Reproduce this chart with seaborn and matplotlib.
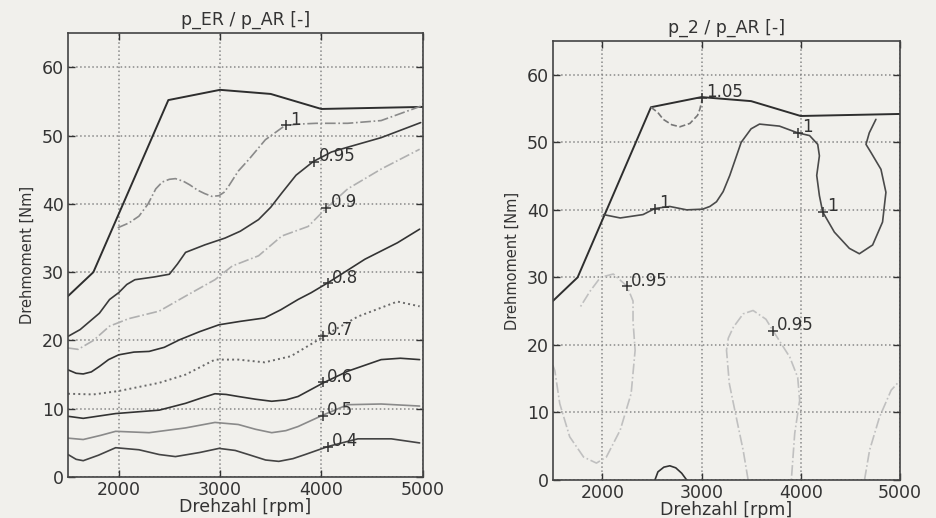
import matplotlib
matplotlib.use("Agg")
import matplotlib.pyplot as plt
import seaborn as sns

# full-load curve (both panels)
full_x = [1500, 1750, 2490, 3000, 3500, 4000, 5000]
full_y = [26.5, 30.0, 55.2, 56.7, 56.1, 53.9, 54.2]

# left panel: p_ER / p_AR contours
c100_x = [1990, 2100, 2200, 2290, 2366, 2430, 2500, 2560, 2640, 2700, 2780, 2850, 2920, 2990, 3040, 3085, 3180, 3284, 3448, 3560, 3644, 3800, 3950, 4260, 4590, 4850, 4980]
c100_y = [36.5, 37.2, 38.2, 40.0, 42.2, 43.2, 43.6, 43.7, 43.3, 42.8, 42.0, 41.5, 41.1, 41.2, 41.7, 42.6, 44.8, 46.5, 49.4, 50.6, 51.5, 51.7, 51.8, 51.8, 52.2, 53.6, 54.3]
c095_x = [1500, 1620, 1810, 1910, 2000, 2080, 2160, 2350, 2500, 2580, 2660, 2850, 3050, 3200, 3380, 3500, 3610, 3750, 3920, 4100, 4260, 4590, 4980]
c095_y = [20.6, 21.6, 24.0, 26.0, 27.0, 28.2, 28.9, 29.3, 29.7, 31.2, 32.9, 34.0, 35.0, 36.0, 37.7, 39.5, 41.6, 44.2, 46.2, 47.6, 48.3, 49.7, 51.9]
c090_x = [1500, 1600, 1750, 1910, 2100, 2400, 2660, 2950, 3120, 3380, 3610, 3870, 4050, 4260, 4590, 4970]
c090_y = [18.9, 18.7, 20.0, 22.1, 23.2, 24.3, 26.5, 28.9, 30.9, 32.4, 35.3, 36.7, 39.4, 42.2, 45.1, 48.0]
c080_x = [1500, 1580, 1650, 1730, 1810, 1900, 2000, 2150, 2300, 2450, 2600, 2800, 2990, 3200, 3440, 3600, 3770, 3900, 4070, 4250, 4430, 4750, 4970]
c080_y = [15.7, 15.2, 15.1, 15.4, 16.2, 17.2, 17.9, 18.3, 18.4, 19.0, 20.1, 21.3, 22.3, 22.8, 23.3, 24.5, 26.0, 27.0, 28.5, 30.2, 31.9, 34.3, 36.3]
c070_x = [1500, 1750, 2000, 2400, 2660, 2950, 3180, 3440, 3700, 3970, 4100, 4360, 4750, 4970]
c070_y = [12.2, 12.1, 12.6, 13.8, 15.0, 17.2, 17.2, 16.8, 17.7, 20.1, 21.3, 23.5, 25.7, 25.0]
c060_x = [1500, 1650, 1970, 2400, 2660, 2820, 2950, 3060, 3180, 3350, 3510, 3650, 3770, 4020, 4260, 4590, 4780, 4970]
c060_y = [8.9, 8.6, 9.3, 9.8, 10.8, 11.6, 12.2, 12.1, 11.8, 11.4, 11.1, 11.3, 11.8, 13.8, 15.5, 17.2, 17.4, 17.2]
c050_x = [1500, 1650, 1820, 1970, 2300, 2660, 2950, 3180, 3350, 3510, 3650, 3770, 4020, 4260, 4590, 4970]
c050_y = [5.7, 5.5, 6.1, 6.7, 6.5, 7.2, 8.0, 7.7, 7.0, 6.5, 6.8, 7.4, 9.1, 10.6, 10.7, 10.4]
c040_x = [1500, 1580, 1650, 1800, 1970, 2200, 2400, 2560, 2800, 2990, 3150, 3280, 3450, 3580, 3720, 3840, 4070, 4360, 4690, 4970]
c040_y = [3.3, 2.6, 2.4, 3.2, 4.3, 4.0, 3.3, 3.0, 3.6, 4.2, 3.9, 3.3, 2.5, 2.3, 2.7, 3.3, 4.5, 5.6, 5.6, 5.0]

left_labels = ["1", "0.95", "0.9", "0.8", "0.7", "0.6", "0.5", "0.4"]
left_lab_x = [3650, 3930, 4050, 4065, 4016, 4016, 4016, 4065]
left_lab_y = [51.5, 46.2, 39.4, 28.4, 20.7, 13.9, 9.0, 4.4]

# right panel: p_2 / p_AR contours
r105_x = [2490, 2560, 2614, 2700, 2782, 2883, 2960, 2983, 3006]
r105_y = [55.2, 54.4, 53.4, 52.6, 52.3, 52.8, 54.0, 54.9, 56.3]
r100_x = [2010, 2180, 2410, 2530, 2680, 2850, 3010, 3084, 3151, 3218, 3285, 3400, 3500, 3585, 3786, 3970, 4090, 4172, 4189,
          4162, 4189, 4222, 4340, 4491, 4592, 4726, 4826, 4860, 4810, 4709, 4659, 4692, 4759]
r100_y = [39.3, 38.8, 39.3, 40.2, 40.5, 40.0, 40.1, 40.5, 41.2, 42.7, 45.1, 50.0, 52.0, 52.7, 52.4, 51.4, 51.0, 49.7, 48.0,
          45.1, 42.1, 39.7, 36.7, 34.3, 33.5, 34.8, 38.2, 42.6, 46.0, 48.5, 49.7, 51.4, 53.4]
r100b_x = [2530, 2560, 2620, 2680, 2740, 2800, 2850]
r100b_y = [0.0, 1.2, 1.9, 2.1, 1.8, 1.0, 0.0]
r095a_x = [1500, 1520, 1570, 1670, 1810, 1940, 2040, 2180, 2290, 2330, 2309, 2309, 2248, 2110, 1980, 1873, 1772]
r095a_y = [17.0, 16.2, 11.3, 6.4, 3.4, 2.5, 3.4, 7.4, 12.8, 19.2, 23.5, 26.5, 28.7, 30.5, 30.0, 27.9, 25.5]
r095b_x = [3470, 3420, 3350, 3280, 3252, 3270, 3320, 3420, 3520, 3650, 3721, 3890, 3970, 3990, 3940, 3906]
r095b_y = [0.0, 4.4, 9.3, 14.3, 19.2, 21.0, 22.6, 24.6, 25.1, 23.8, 22.1, 18.2, 15.2, 11.8, 6.9, 0.0]
r095c_x = [4644, 4695, 4795, 4913, 5000]
r095c_y = [0.0, 4.4, 9.3, 13.3, 14.7]

right_labels = ["1.05", "1", "1", "1", "0.95", "0.95"]
right_lab_x = [3000, 2530, 3970, 4222, 2248, 3721]
right_lab_y = [56.6, 40.2, 51.4, 39.7, 28.7, 22.1]

xticks = [2000, 3000, 4000, 5000]
yticks = [0, 10, 20, 30, 40, 50, 60]

bg = "#f1f0ec"
sns.set_theme(style="ticks")
plt.rcParams["font.family"] = ["DejaVu Sans"]

fig = plt.figure(figsize=(9.37, 5.18), dpi=100, facecolor=bg)
ax1 = fig.add_axes([0.0726, 0.079, 0.3785, 0.857])
ax2 = fig.add_axes([0.590, 0.0734, 0.3703, 0.8474])


def line(ax, x, y, color, ls="-", lw=1.2):
    sns.lineplot(x=x, y=y, ax=ax, sort=False, estimator=None, color=color,
                 linestyle=ls, linewidth=lw)


def labels(ax, names, xs, ys):
    for name, x, y in zip(names, xs, ys):
        ax.plot(x, y, "+", color="#333333", ms=7, mew=1.1)
        ax.annotate(name, (x, y), xytext=(3, 4), textcoords="offset points",
                    ha="left", va="center", fontsize=12, color="#333333")


def style(ax, title):
    ax.set_facecolor(bg)
    ax.set_xlim(1500, 5000)
    ax.set_ylim(0, 65)
    ax.set_xticks(xticks)
    ax.set_yticks(yticks)
    ax.grid(True, linestyle=":", color="#888888", linewidth=1.1)
    ax.tick_params(direction="in", top=True, right=True, length=5, width=1,
                   labelsize=12.5, colors="#333333", pad=3)
    for s in ax.spines.values():
        s.set_color("#444444")
        s.set_linewidth(1.2)
    ax.set_title(title, fontsize=12.5, color="#333333", pad=6)
    ax.set_xlabel("Drehzahl [rpm]", fontsize=12.5, color="#333333", labelpad=-1)
    ax.set_ylabel("Drehmoment [Nm]", fontsize=10.5, color="#333333", labelpad=5)


# left panel
line(ax1, full_x, full_y, "#2e2e2e", lw=1.4)
line(ax1, c100_x, c100_y, "#8a8a8a", "-.")
line(ax1, c095_x, c095_y, "#3a3a3a")
line(ax1, c090_x, c090_y, "#b0b0b0", "-.")
line(ax1, c080_x, c080_y, "#333333")
line(ax1, c070_x, c070_y, "#6a6a6a", ":", 1.4)
line(ax1, c060_x, c060_y, "#333333")
line(ax1, c050_x, c050_y, "#8a8a8a")
line(ax1, c040_x, c040_y, "#444444")
labels(ax1, left_labels, left_lab_x, left_lab_y)
style(ax1, "p_ER / p_AR [-]")

# right panel
line(ax2, full_x, full_y, "#2e2e2e", lw=1.4)
line(ax2, r105_x, r105_y, "#777777", "--")
line(ax2, r100_x, r100_y, "#4a4a4a")
line(ax2, r100b_x, r100b_y, "#333333")
for xs, ys in [(r095a_x, r095a_y), (r095b_x, r095b_y), (r095c_x, r095c_y)]:
    line(ax2, xs, ys, "#c0c0c0", "-.")
labels(ax2, right_labels, right_lab_x, right_lab_y)
style(ax2, "p_2 / p_AR [-]")

fig.savefig("out.png", dpi=100, facecolor=bg)
